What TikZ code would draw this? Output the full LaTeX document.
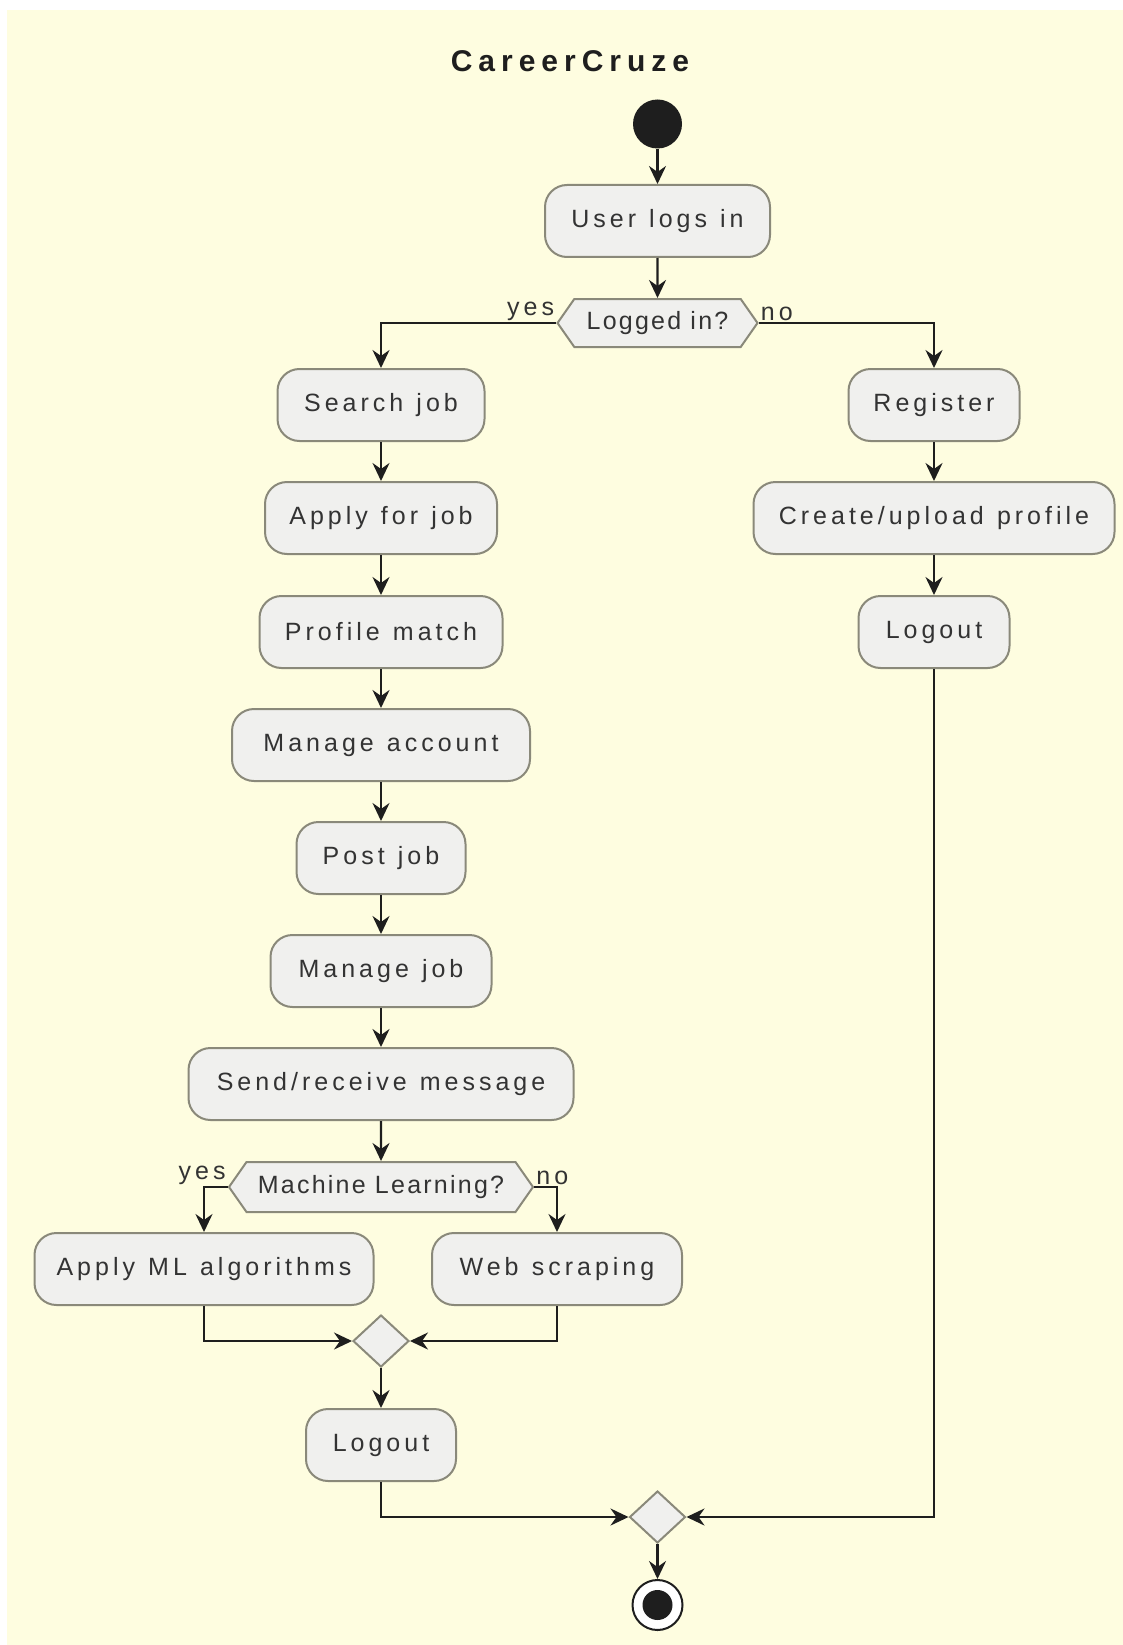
\documentclass[tikz,border=0pt]{standalone}
\usepackage{fontspec}
\setmainfont{Liberation Sans}
\newfontfamily\actfont[LetterSpace=16,WordSpace=1.2]{Liberation Sans}
\newfontfamily\condfont[LetterSpace=9]{Liberation Sans}
\newfontfamily\headfont[LetterSpace=20]{Liberation Sans}
\usetikzlibrary{arrows.meta,shapes.symbols,shapes.geometric}
\definecolor{paper}{HTML}{FEFDE0}
\definecolor{boxfill}{HTML}{F0F0EE}
\definecolor{boxline}{HTML}{8A897A}
\definecolor{ink}{HTML}{1E1E1E}
\definecolor{txt}{HTML}{333333}
\begin{document}
\begin{tikzpicture}[x={(1pt,0pt)},y={(0pt,-1pt)},
    >={Stealth[length=18pt,width=17pt,inset=6pt]},
    flow/.style={->,draw=ink,line width=2.4pt},
    act/.style={draw=boxline,fill=boxfill,line width=2pt,rounded corners=22pt,
      minimum height=72pt,inner xsep=0pt,text=txt,font=\actfont\fontsize{25}{30}\selectfont},
    cond/.style={signal,signal to=west and east,signal pointer angle=110,
      draw=boxline,fill=boxfill,line width=2pt,minimum height=48pt,inner xsep=0pt,
      text=txt,font=\condfont\fontsize{25}{30}\selectfont},
    merge/.style={diamond,draw=boxline,fill=boxfill,line width=2pt,
      minimum width=56pt,minimum height=52pt,inner sep=0pt},
    guard/.style={text=txt,font=\actfont\fontsize{25}{30}\selectfont,inner sep=2pt}]
    % Sheet
    \useasboundingbox (0,0) rectangle (1123,1645);
    \fill[white] (0,0) rectangle (1123,1645);
    \fill[paper] (7,10) rectangle (1123,1645);
    % Title and start
    \node[text=ink,font=\headfont\bfseries\fontsize{30}{36}\selectfont] (title) at (570,61) {CareerCruze};
    \node[circle,fill=ink,minimum size=49pt,inner sep=0pt] (start) at (657.5,124) {};
    \node[act,minimum width=225] (login) at (657.5,221) {User logs in};
    \node[cond,minimum width=200] (logged) at (657.5,323) {Logged in?};
    \node[guard,anchor=south east] (yes1) at (logged.west) {yes};
    \node[guard,anchor=south west] (no1) at (logged.east) {no};
    % Left column
    \node[act,minimum width=207] (search) at (381,405) {Search job};
    \node[act,minimum width=232] (apply) at (381,518) {Apply for job};
    \node[act,minimum width=243] (match) at (381,632) {Profile match};
    \node[act,minimum width=298] (account) at (381,745) {Manage account};
    \node[act,minimum width=169] (post) at (381,858) {Post job};
    \node[act,minimum width=221] (managejob) at (381,971) {Manage job};
    \node[act,minimum width=385] (message) at (381,1084) {Send/receive message};
    \node[cond,minimum width=304,minimum height=50pt] (ml) at (381,1187) {Machine Learning?};
    \node[guard,anchor=south east] (yes2) at (ml.west) {yes};
    \node[guard,anchor=south west] (no2) at (ml.east) {no};
    \node[act,minimum width=339] (algo) at (204,1269) {Apply ML algorithms};
    \node[act,minimum width=250] (scrape) at (557,1269) {Web scraping};
    \node[merge] (join) at (381,1341) {};
    \node[act,minimum width=150] (logoutA) at (381,1445) {Logout};
    % Right column
    \node[act,minimum width=171] (register) at (934,405) {Register};
    \node[act,minimum width=361] (profile) at (934,518) {Create/upload profile};
    \node[act,minimum width=151] (logoutB) at (934,632) {Logout};
    % End
    \node[merge] (final) at (657.5,1517) {};
    \node[circle,draw=ink,fill=white,line width=2pt,minimum size=50pt,inner sep=0pt,
      path picture={\fill[ink] (path picture bounding box.center) circle (15pt);}] (stop) at (657.5,1605) {};
    % Flows
    \draw[flow] (start) -- (login);
    \draw[flow] (login) -- (logged);
    \draw[flow] (logged.west) -| (search);
    \draw[flow] (logged.east) -| (register);
    \draw[flow] (search) -- (apply);
    \draw[flow] (apply) -- (match);
    \draw[flow] (match) -- (account);
    \draw[flow] (account) -- (post);
    \draw[flow] (post) -- (managejob);
    \draw[flow] (managejob) -- (message);
    \draw[flow] (message) -- (ml);
    \draw[flow] (ml.west) -| (algo);
    \draw[flow] (ml.east) -| (scrape);
    \draw[flow] (algo) |- (join.west);
    \draw[flow] (scrape) |- (join.east);
    \draw[flow] (join) -- (logoutA);
    \draw[flow] (register) -- (profile);
    \draw[flow] (profile) -- (logoutB);
    \draw[flow] (logoutA) |- (final.west);
    \draw[flow] (logoutB) |- (final.east);
    \draw[flow] (final) -- (stop);
\end{tikzpicture}
\end{document}
